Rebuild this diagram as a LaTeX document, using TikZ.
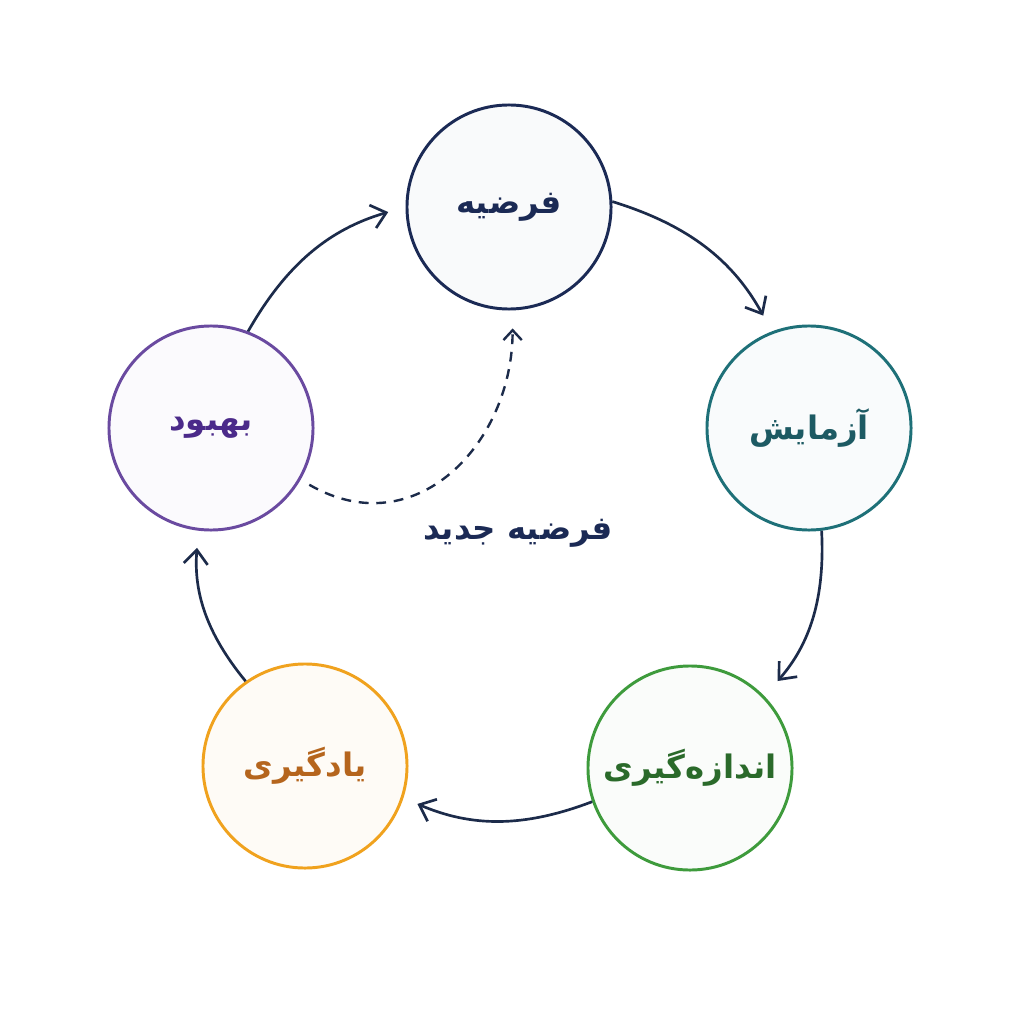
\documentclass[tikz,border=0pt]{standalone}
\usepackage{fontspec}
\usetikzlibrary{arrows.meta}
\TeXXeTstate=1
\newfontfamily\arabicfont[Script=Arabic]{DejaVu Sans}
\definecolor{navy}{HTML}{1B2A55}
\definecolor{arrowc}{HTML}{1C2B4A}
\definecolor{tealb}{HTML}{1E7078}
\definecolor{tealt}{HTML}{1D5A63}
\definecolor{greenb}{HTML}{3E9B3C}
\definecolor{greent}{HTML}{2A6A2A}
\definecolor{orangeb}{HTML}{F0A21E}
\definecolor{oranget}{HTML}{B5651D}
\definecolor{purpleb}{HTML}{6A4AA0}
\definecolor{purplet}{HTML}{4B2A8A}
\begin{document}
\begin{tikzpicture}[x=0.025cm,y=-0.025cm,
  stage/.style={circle, minimum size=5.1cm, inner sep=0pt, line width=2.1pt,
    font=\arabicfont\bfseries\fontsize{23}{27}\selectfont},
  flow/.style={draw=arrowc, line width=1.9pt, -{Straight Barb[length=10pt,width=17pt]}},
  newhyp/.style={draw=arrowc, line width=1.7pt, dashed, dash pattern=on 7pt off 5.5pt, -{Straight Barb[length=7pt,width=13pt]}}]
\fill[white] (0,0) rectangle (1024,1024);
\useasboundingbox (0,0) rectangle (1024,1024);
\node[stage, draw=navy, fill=navy!2.5, text=navy] (f) at (509,207) {\beginR فرضیه\endR};
\node[stage, draw=tealb, fill=tealb!2.5, text=tealt] (a) at (809,428) {\beginR آزمایش\endR};
\node[stage, draw=greenb, fill=greenb!2.5, text=greent] (m) at (690,768) {\beginR اندازه‌گیری\endR};
\node[stage, draw=orangeb, fill=orangeb!4, text=oranget] (y) at (305,766) {\beginR یادگیری\endR};
\node[stage, draw=purpleb, fill=purpleb!2.5, text=purplet] (b) at (211,428) {\beginR بهبود\endR};
\node[text=navy, font=\arabicfont\bfseries\fontsize{23}{27}\selectfont] (lbl) at (518,533) {\beginR فرضیه جدید\endR};
\draw[flow, shorten >=0.45cm] (f.3) to[bend left=22] (a.111);
\draw[flow, shorten >=0.5cm] (a.-83) to[bend left=22] (m.44);
\draw[flow, shorten >=0.38cm] (m.199) to[bend left=22] (y.-18);
\draw[flow, shorten >=0.43cm] (y.125) to[bend left=22] (b.263);
\draw[flow, shorten >=0.45cm] (b.69) to[bend left=22] (f.180);
\draw[newhyp, shorten <=0.25cm, shorten >=0.45cm] (b.-30) to[out=-30,in=-90,looseness=1.25] (f.272);
\end{tikzpicture}
\end{document}
